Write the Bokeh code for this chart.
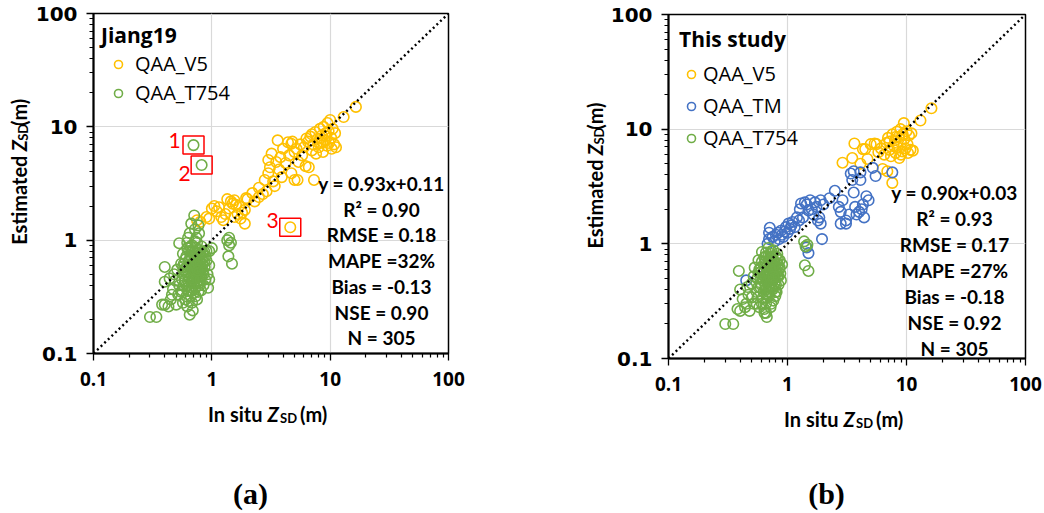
import math
from bokeh.plotting import figure
from bokeh.layouts import row, column
from bokeh.models import Label, Legend, FixedTicker
from bokeh.embed import file_html
from bokeh.resources import INLINE

# ---------------- data ----------------
TICKS = [0.1, 1, 10, 100]
TICK_LABELS = ["0.1", "1", "10", "100"]
MINOR_TICKS = [0.2, 0.3, 0.4, 0.5, 0.6, 0.7, 0.8, 0.9,
               2, 3, 4, 5, 6, 7, 8, 9,
               20, 30, 40, 50, 60, 70, 80, 90]
ONE_TO_ONE = [0.1, 100]

# Panel (a) Jiang19
A_V5_X = [0.75, 0.80, 0.90, 0.95, 1.00, 1.05, 1.10, 1.15, 1.20, 1.25, 1.30, 1.35, 1.40, 1.45, 1.50,
          1.55, 1.55, 1.60, 1.65, 1.70, 1.75, 1.80, 1.90, 1.90, 1.95, 2.00, 2.20, 2.30, 2.50, 2.50,
          2.70, 2.80, 2.90, 3.00, 3.00, 3.10, 3.20, 3.30, 3.40, 3.50, 3.60, 3.70, 3.80, 3.90, 4.00,
          4.20, 4.40, 4.50, 4.70, 4.70, 4.80, 5.00, 5.00, 5.30, 5.40, 5.60, 5.80, 6.00, 6.20, 6.50,
          6.60, 6.80, 7.00, 7.20, 7.30, 7.50, 7.60, 7.80, 8.00, 8.20, 8.30, 8.50, 8.70, 8.80, 9.00,
          9.20, 9.40, 9.50, 9.70, 9.80, 10.0, 10.2, 10.3, 10.5, 10.8, 11.0, 11.2, 13.0, 16.5, 4.60,
          7.0, 8.6, 9.1, 6.3, 5.2]
A_V5_Y = [1.50, 1.45, 1.60, 1.55, 1.90, 2.00, 1.80, 1.95, 1.60, 1.50, 1.70, 2.30, 1.90, 2.20, 2.10,
          2.25, 1.60, 2.05, 1.70, 2.00, 1.55, 1.75, 1.40, 1.85, 2.35, 2.30, 2.60, 2.20, 2.90, 2.40,
          2.55, 3.40, 2.70, 3.90, 5.10, 4.40, 5.80, 3.30, 3.00, 4.90, 7.60, 4.20, 5.40, 3.60, 6.40,
          4.80, 7.30, 5.60, 3.90, 7.10, 7.40, 3.40, 6.00, 3.40, 4.90, 7.00, 5.60, 6.60, 4.50, 7.40,
          4.40, 8.20, 6.20, 7.00, 3.40, 9.00, 5.80, 7.80, 6.60, 9.60, 7.20, 8.40, 6.00, 10.0, 7.60,
          8.80, 6.80, 10.8, 9.20, 7.20, 11.5, 8.00, 6.40, 9.60, 7.00, 8.80, 6.60, 12.2, 15.0, 1.30,
          8.6, 7.4, 8.3, 7.9, 6.4]
A_T754_X = [0.30, 0.34, 0.38, 0.40, 0.43, 0.40, 0.40, 0.45, 0.47, 0.48, 0.50, 0.52, 0.53, 0.55, 0.56,
            0.57, 0.58, 0.58, 0.60, 0.60, 0.62, 0.63, 0.63, 0.64, 0.65, 0.65, 0.65, 0.66, 0.67, 0.67,
            0.68, 0.68, 0.69, 0.70, 0.70, 0.71, 0.71, 0.72, 0.72, 0.73, 0.73, 0.74, 0.75, 0.75, 0.76,
            0.76, 0.77, 0.77, 0.78, 0.78, 0.79, 0.80, 0.80, 0.81, 0.82, 0.82, 0.83, 0.84, 0.85, 0.86,
            0.87, 0.88, 0.90, 0.90, 0.92, 0.93, 0.55, 0.57, 0.62, 0.66, 0.69, 0.61, 0.59, 0.64, 0.67,
            0.72, 0.74, 0.63, 0.74, 0.79, 0.77, 0.71, 0.68, 0.85, 0.88, 0.53, 0.51, 0.49, 0.46, 0.44,
            0.95, 0.95, 0.95, 1.00, 1.35, 1.40, 1.45, 1.40, 1.38, 1.48, 0.70, 0.82,
            0.58, 0.60, 0.61, 0.62, 0.63, 0.64, 0.65, 0.66, 0.66, 0.67, 0.68, 0.69, 0.69, 0.70, 0.70,
            0.71, 0.71, 0.72, 0.72, 0.73, 0.73, 0.74, 0.74, 0.75, 0.75, 0.76, 0.77, 0.77, 0.78, 0.78,
            0.79, 0.80, 0.80, 0.81, 0.82, 0.83, 0.84, 0.86, 0.57, 0.56, 0.59, 0.61, 0.62, 0.64, 0.68,
            0.70, 0.72, 0.76]
A_T754_Y = [0.21, 0.21, 0.27, 0.27, 0.26, 0.43, 0.58, 0.30, 0.37, 0.50, 0.27, 0.33, 0.94, 0.62, 0.45,
            0.76, 0.40, 0.55, 0.30, 0.68, 0.85, 0.48, 1.05, 0.36, 0.22, 1.15, 0.58, 0.72, 1.40, 0.42,
            0.28, 0.90, 0.52, 0.64, 0.34, 1.65, 0.78, 0.46, 1.25, 0.56, 0.38, 0.70, 0.95, 0.30, 0.60,
            0.50, 1.35, 0.82, 1.15, 0.42, 0.66, 0.55, 0.75, 0.36, 0.88, 0.48, 0.62, 0.70, 0.50, 0.80,
            0.58, 0.45, 0.66, 0.80, 0.50, 0.38, 0.35, 0.28, 0.26, 0.32, 0.24, 0.40, 0.50, 0.66, 0.78,
            0.98, 1.05, 0.52, 0.42, 0.48, 0.35, 0.55, 0.62, 0.40, 0.72, 0.40, 0.55, 0.44, 0.33, 0.46,
            0.80, 0.60, 0.45, 0.85, 1.00, 1.05, 0.95, 0.90, 0.72, 0.62, 6.90, 4.60,
            0.62, 0.52, 0.72, 0.58, 0.40, 0.80, 0.46, 0.54, 0.88, 0.36, 0.70, 0.44, 0.82, 0.50, 0.58,
            0.40, 0.66, 0.72, 0.54, 0.32, 0.86, 0.48, 0.60, 0.66, 0.78, 0.44, 0.56, 0.62, 0.72, 0.52,
            0.40, 0.62, 0.45, 0.70, 0.58, 0.78, 0.54, 0.64, 0.58, 0.36, 0.44, 0.32, 0.95, 0.29, 0.38,
            0.45, 0.62, 0.54]
A_OUT_X = [0.70, 0.82, 4.60]
A_OUT_Y = [6.90, 4.60, 1.30]
A_OUT_LABELS = ["1", "2", "3"]
A_STATS = ["y = 0.93x+0.11", "R² = 0.90", "RMSE = 0.18", "MAPE =32%", "Bias = -0.13", "NSE = 0.90", "N = 305"]

# Panel (b) This study
B_V5_X = [2.9, 3.5, 3.65, 4.1, 4.3, 4.7, 5.0, 5.4, 5.8, 6.3, 6.5, 6.9, 6.8, 7.0, 7.2, 7.4, 7.6, 7.6,
          7.8, 8.0, 8.1, 8.3, 8.4, 8.6, 8.7, 8.9, 9.0, 9.2, 9.3, 9.5, 9.6, 9.8, 10.0, 10.2, 10.3,
          10.5, 10.8, 11.0, 11.3, 13.1, 16.2, 8.2, 7.2, 6.1, 9.0, 4.5, 5.6]
B_V5_Y = [5.1, 5.6, 7.5, 5.0, 6.7, 5.5, 7.4, 7.5, 6.3, 4.5, 6.0, 4.3, 7.6, 8.4, 6.6, 5.8, 3.4, 9.0,
          7.2, 8.0, 6.2, 9.5, 7.0, 8.6, 5.6, 10.0, 7.6, 6.4, 9.0, 11.3, 8.2, 6.8, 9.6, 7.4, 6.2,
          8.8, 6.6, 9.2, 6.5, 11.9, 15.2, 8.6, 7.8, 6.8, 6.0, 6.7, 7.4]
B_TM_X = [0.45, 0.68, 0.70, 0.70, 0.71, 0.75, 0.78, 0.80, 0.83, 0.85, 0.88, 0.90, 0.92, 0.95, 0.97,
          1.00, 1.02, 1.05, 1.08, 1.10, 1.15, 1.20, 1.25, 1.27, 1.30, 1.35, 1.40, 1.45, 1.50, 1.55,
          1.60, 1.65, 1.70, 1.75, 1.80, 1.85, 1.90, 1.90, 1.95, 2.00, 2.25, 2.50, 2.70, 2.80, 2.80,
          2.90, 3.10, 3.10, 3.30, 3.40, 3.50, 3.60, 3.70, 3.80, 4.00, 4.10, 4.10, 4.30, 4.40, 4.60,
          4.80, 5.20, 5.50, 7.60, 1.50, 1.45, 4.20, 3.60]
B_TM_Y = [0.48, 1.00, 1.10, 1.25, 1.38, 1.15, 1.05, 1.20, 1.25, 1.10, 1.30, 1.20, 1.15, 1.28, 1.40,
          1.25, 1.50, 1.35, 1.45, 1.55, 1.40, 1.70, 1.60, 2.00, 2.25, 1.70, 2.30, 2.20, 1.95, 2.40,
          2.00, 1.80, 2.30, 2.10, 1.60, 1.70, 2.40, 1.50, 1.10, 2.20, 2.50, 2.90, 2.10, 1.90, 1.50,
          2.40, 1.60, 1.50, 1.80, 4.10, 3.60, 2.80, 2.10, 1.80, 1.90, 4.20, 3.60, 2.20, 1.70, 2.60,
          2.40, 4.60, 3.90, 4.20, 0.83, 0.93, 2.00, 4.30]
B_T754_X = [0.30, 0.35, 0.38, 0.40, 0.39, 0.40, 0.42, 0.45, 0.47, 0.48, 0.50, 0.52, 0.53, 0.55, 0.56,
            0.57, 0.58, 0.59, 0.60, 0.61, 0.62, 0.63, 0.64, 0.64, 0.65, 0.66, 0.67, 0.67, 0.68, 0.69,
            0.70, 0.70, 0.71, 0.72, 0.72, 0.73, 0.74, 0.75, 0.76, 0.76, 0.77, 0.78, 0.79, 0.80, 0.81,
            0.82, 0.83, 0.84, 0.85, 0.86, 0.88, 0.90, 0.62, 0.66, 0.69, 0.73, 0.57, 0.60, 0.68, 0.75,
            0.79, 0.71, 0.65, 0.82, 0.87, 0.55, 0.50, 0.46, 0.44, 0.52, 1.38, 1.42, 1.47, 1.40, 1.50,
            0.58, 0.60, 0.61, 0.62, 0.63, 0.64, 0.65, 0.66, 0.66, 0.67, 0.68, 0.69, 0.69, 0.70, 0.70,
            0.71, 0.71, 0.72, 0.72, 0.73, 0.73, 0.74, 0.74, 0.75, 0.75, 0.76, 0.77, 0.77, 0.78, 0.78,
            0.79, 0.80, 0.80, 0.81, 0.82, 0.83, 0.84, 0.86, 0.57, 0.56, 0.59, 0.61, 0.64, 0.68, 0.70,
            0.72, 0.76, 0.66]
B_T754_Y = [0.20, 0.20, 0.27, 0.26, 0.58, 0.40, 0.33, 0.30, 0.36, 0.26, 0.45, 0.30, 0.62, 0.38, 0.50,
            0.72, 0.28, 0.56, 0.44, 0.85, 0.34, 0.66, 0.52, 0.25, 0.40, 0.78, 0.60, 0.23, 0.46, 0.92,
            0.35, 0.70, 0.55, 0.28, 0.82, 0.42, 0.62, 0.50, 0.88, 0.32, 0.70, 0.45, 0.58, 0.78, 0.38,
            0.52, 0.66, 0.44, 0.60, 0.72, 0.48, 0.66, 0.48, 0.30, 0.38, 0.75, 0.42, 0.62, 0.55, 0.40,
            0.35, 0.48, 0.70, 0.82, 0.55, 0.30, 0.34, 0.42, 0.28, 0.52, 1.05, 0.95, 0.98, 0.65, 0.58,
            0.60, 0.50, 0.70, 0.56, 0.38, 0.76, 0.44, 0.52, 0.84, 0.34, 0.66, 0.42, 0.78, 0.48, 0.56,
            0.38, 0.64, 0.70, 0.50, 0.30, 0.86, 0.46, 0.58, 0.64, 0.76, 0.42, 0.54, 0.60, 0.68, 0.50,
            0.38, 0.60, 0.44, 0.68, 0.56, 0.74, 0.52, 0.62, 0.56, 0.34, 0.42, 0.30, 0.27, 0.36, 0.43,
            0.60, 0.52, 0.25]
B_STATS = ["y = 0.90x+0.03", "R² = 0.93", "RMSE = 0.17", "MAPE =27%", "Bias = -0.18", "NSE = 0.92", "N = 305"]

YELLOW = "#FFC000"
GREEN = "#70AD47"
BLUE = "#4472C4"
FONT = "Lato"
LEG_FONT = "Open Sans"


def geom(left, top, w, h):
    def f(px, py):
        return (10 ** (-1 + 3 * (px - left) / w), 10 ** (-1 + 3 * (top + h - py) / h))
    return f


def make_panel(width, height, left, top, fw, fh):
    p = figure(x_axis_type="log", y_axis_type="log", x_range=(0.1, 100), y_range=(0.1, 100),
               frame_width=fw, frame_height=fh, min_border_left=left, min_border_top=top,
               min_border_right=width - left - fw, min_border_bottom=height - top - fh,
               output_backend="svg", toolbar_location=None,
               background_fill_color="white", border_fill_color="white")
    for ax in (p.xaxis[0], p.yaxis[0]):
        ax.ticker = FixedTicker(ticks=TICKS, minor_ticks=MINOR_TICKS)
        ax.major_label_overrides = {t: l for t, l in zip(TICKS, TICK_LABELS)}
        ax.axis_line_color = "black"
        ax.axis_line_width = 2
        ax.major_tick_line_color = "black"
        ax.major_tick_line_width = 1.3
        ax.minor_tick_line_color = "black"
        ax.minor_tick_line_width = 1.2
        ax.major_tick_in = 0
        ax.major_tick_out = 7
        ax.minor_tick_in = 0
        ax.minor_tick_out = 4
        ax.major_label_text_font_style = "bold"
        ax.major_label_text_color = "black"
    p.xaxis.major_label_text_font = "Open Sans"
    p.xaxis.major_label_text_font_size = "19px"
    p.yaxis.major_label_text_font = "DejaVu Sans"
    p.yaxis.major_label_text_font_size = "20px"
    p.xaxis.major_label_standoff = 11
    p.yaxis.major_label_standoff = 9
    p.grid.grid_line_color = "#D9D9D9"
    p.grid.grid_line_width = 1.2
    p.outline_line_color = "black"
    p.outline_line_width = 1.5
    return p


def strip(w, h):
    s = figure(width=w, height=h, x_range=(0, w), y_range=(0, h), min_border=0,
               min_border_left=0, min_border_right=0, min_border_top=0, min_border_bottom=0,
               x_axis_location=None, y_axis_location=None, toolbar_location=None,
               output_backend="svg", outline_line_color=None,
               background_fill_color="white", border_fill_color="white")
    s.grid.visible = False
    return s


def add_text(p, x, y, text, size, style="bold", align="center", baseline="middle", color="black",
             font=FONT, angle=0.0):
    p.add_layout(Label(x=x, y=y, text=text, text_font=font, text_font_size=size,
                       text_font_style=style, text_align=align, text_baseline=baseline,
                       text_color=color, angle=angle))


def x_title(s, h, cx, cy):
    # s: strip figure of height h; cx, cy in strip pixel coords (y from top)
    add_text(s, cx - 7.5, h - cy, "In situ", "20px", align="right")
    add_text(s, cx - 2.5, h - cy, "Z", "20px", style="bold italic", align="left")
    add_text(s, cx + 10, h - cy - 4, "SD", "13px", align="left")
    add_text(s, cx + 30, h - cy, "(m)", "20px", align="left")


def y_title(s, h, bx, cy):
    rot = math.pi / 2
    add_text(s, bx, h - (cy - 15), "Estimated", "20px", align="right", angle=rot)
    add_text(s, bx, h - (cy - 20), "Z", "20px", style="bold italic", align="left", angle=rot)
    add_text(s, bx + 4, h - (cy - 32.5), "SD", "13px", align="left", angle=rot)
    add_text(s, bx, h - (cy - 50), "(m)", "20px", align="left", angle=rot)


def scatter(p, xs, ys, color):
    return p.scatter(xs, ys, marker="circle", size=10.5, fill_color=None, line_color=color, line_width=1.6)


def diag(p):
    p.line(ONE_TO_ONE, ONE_TO_ONE, line_color="black", line_width=2.4, line_dash="2 3", line_cap="butt")


# ---------------- panel (a) ----------------
SA_W, PA_H = 32, 402
PA_W = 522 - SA_W
L1, T1, W1, H1 = 92 - SA_W, 13, 355, 340
p1 = make_panel(PA_W, PA_H, L1, T1, W1, H1)
g1 = geom(L1, T1, W1, H1)
r_a_v5 = scatter(p1, A_V5_X, A_V5_Y, YELLOW)
r_a_g = scatter(p1, A_T754_X, A_T754_Y, GREEN)
p1.rect(A_OUT_X, A_OUT_Y, width=21, height=18, width_units="screen", height_units="screen",
        fill_color=None, line_color="#FF0000", line_width=1.5)
diag(p1)
for lab, (px, py) in zip(A_OUT_LABELS, [(173, 140), (183, 173), (271, 220)]):
    add_text(p1, *g1(px - SA_W, py), lab, "21px", style="normal", color="#FF0000")
leg1 = Legend(items=[("QAA_V5", [r_a_v5]), ("QAA_T754", [r_a_g])], location="top_left",
              title="Jiang19", title_text_font=LEG_FONT, title_text_font_style="bold",
              title_text_font_size="21px", title_text_color="black", title_standoff=1,
              label_text_font=LEG_FONT, label_text_color="black",
              label_text_font_size="20px", glyph_width=34, glyph_height=20, label_standoff=-10,
              spacing=2, padding=0, margin=8, border_line_color=None, background_fill_alpha=0)
p1.add_layout(leg1)
for i, s in enumerate(A_STATS):
    add_text(p1, *g1(380 - SA_W, 183 + i * 25.7), s, "19px")

sya = strip(SA_W, PA_H)
y_title(sya, PA_H, 18, T1 + H1 / 2)
sxa = strip(522, 513 - PA_H)
x_title(sxa, 513 - PA_H, 92 + W1 / 2, 413 - PA_H)
add_text(sxa, 250, (513 - PA_H) - (493 - PA_H), "(a)", "30px", font="Liberation Serif")

# ---------------- panel (b) ----------------
SB_W, PB_H = 84, 406
PB_W = 522 - SB_W
L2, T2, W2, H2 = 666 - 522 - SB_W, 14, 357, 344
p2 = make_panel(PB_W, PB_H, L2, T2, W2, H2)
g2 = geom(L2, T2, W2, H2)
r_b_v5 = scatter(p2, B_V5_X, B_V5_Y, YELLOW)
r_b_tm = scatter(p2, B_TM_X, B_TM_Y, BLUE)
r_b_g = scatter(p2, B_T754_X, B_T754_Y, GREEN)
diag(p2)
leg2 = Legend(items=[("QAA_V5", [r_b_v5]), ("QAA_TM", [r_b_tm]), ("QAA_T754", [r_b_g])],
              location="top_left", title="This study", title_text_font=LEG_FONT,
              title_text_font_style="bold", title_text_font_size="21px", title_text_color="black",
              title_standoff=7, label_text_font=LEG_FONT, label_text_color="black",
              label_text_font_size="20px", glyph_width=24, glyph_height=20,
              label_standoff=-1, spacing=5, padding=0, margin=11, border_line_color=None,
              background_fill_alpha=0)
p2.add_layout(leg2)
for i, s in enumerate(B_STATS):
    add_text(p2, *g2(952 - 522 - SB_W, 192 + i * 26), s, "19px")

syb = strip(SB_W, PB_H)
y_title(syb, PB_H, 71, T2 + H2 / 2)
sxb = strip(522, 513 - PB_H)
x_title(sxb, 513 - PB_H, 666 - 522 + W2 / 2, 418 - PB_H)
add_text(sxb, 825 - 522, (513 - PB_H) - (493 - PB_H), "(b)", "30px", font="Liberation Serif")

layout = row(column(row(sya, p1), sxa), column(row(syb, p2), sxb))
open("out.html", "w").write(file_html(layout, INLINE))
